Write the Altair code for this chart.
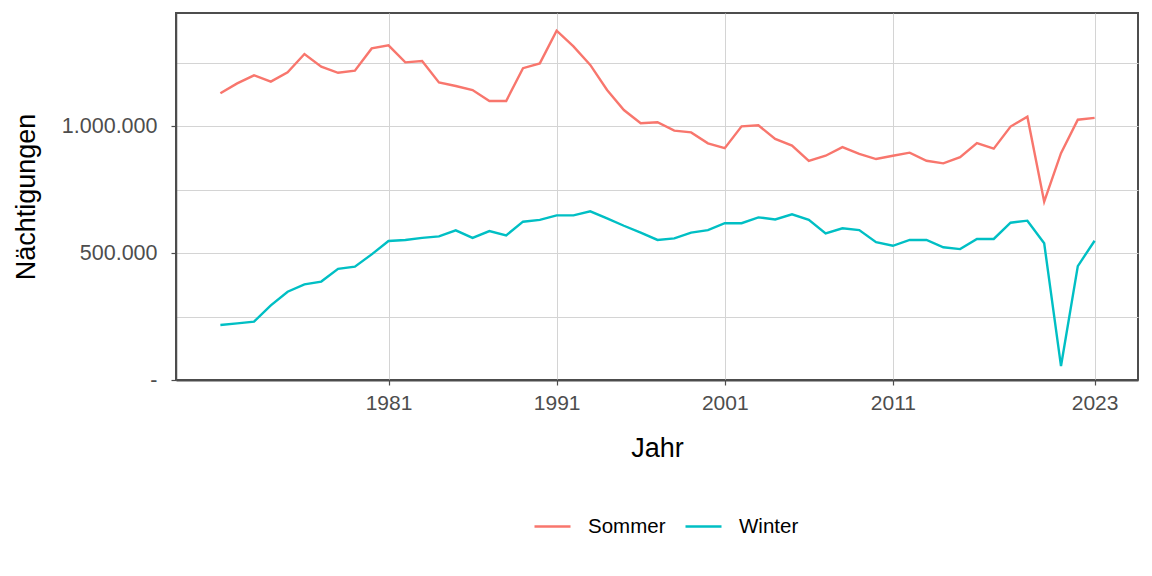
import altair as alt
import pandas as pd

years = list(range(1971, 2024))
sommer = [1130000, 1169000, 1201000, 1176000, 1213000, 1285000, 1235000, 1211000, 1219000, 1307000,
          1319000, 1252000, 1257000, 1173000, 1159000, 1143000, 1100000, 1100000, 1229000, 1248000,
          1377000, 1315000, 1242000, 1143000, 1064000, 1012000, 1016000, 983000, 976000, 933000,
          914000, 1000000, 1004000, 950000, 924000, 864000, 884000, 918000, 891000, 871000,
          884000, 896000, 864000, 854000, 878000, 934000, 912000, 999000, 1038000, 703000,
          894000, 1026000, 1033000]
winter = [217000, 223000, 230000, 294000, 348000, 377000, 388000, 438000, 447000, 495000,
          548000, 552000, 560000, 566000, 590000, 560000, 587000, 570000, 624000, 631000,
          649000, 649000, 665000, 637000, 608000, 581000, 552000, 558000, 581000, 591000,
          618000, 618000, 641000, 633000, 653000, 631000, 578000, 598000, 591000, 543000,
          529000, 552000, 552000, 523000, 516000, 556000, 556000, 620000, 628000, 539000,
          55000, 449000, 549000]
series = ["Sommer", "Winter"]
colors = ["#F8766D", "#00BFC4"]
x_ticks = [1981, 1991, 2001, 2011, 2023]
y_ticks = [0, 250000, 500000, 750000, 1000000, 1250000]

df = pd.concat([
    pd.DataFrame({"Jahr": years, "Nächtigungen": sommer, "Saison": "Sommer"}),
    pd.DataFrame({"Jahr": years, "Nächtigungen": winter, "Saison": "Winter"}),
])

FONT = "Liberation Sans"

chart = alt.Chart(df).mark_line(strokeWidth=2.4).encode(
    x=alt.X("Jahr:Q",
            scale=alt.Scale(domain=[1968.36, 2025.58], nice=False, zero=False),
            axis=alt.Axis(values=x_ticks, labelExpr="format(datum.value, 'd')",
                          title="Jahr", grid=True, gridColor="#d4d4d4", gridWidth=1,
                          tickColor="#4d4d4d", tickSize=5, tickWidth=1.2,
                          domainColor="#4d4d4d", domainWidth=2,
                          labelFont=FONT, labelFontSize=21, labelColor="#4d4d4d",
                          labelPadding=7, titleFont=FONT, titleFontSize=27,
                          titleFontWeight="normal", titleColor="black", titlePadding=22)),
    y=alt.Y("Nächtigungen:Q",
            scale=alt.Scale(domain=[0, 1446600], nice=False),
            axis=alt.Axis(values=y_ticks,
                          labelExpr="datum.value == 0 ? '-' : (datum.value % 500000 != 0 ? '' : replace(format(datum.value, ','), /,/g, '.'))",
                          title="Nächtigungen", grid=True, gridColor="#d4d4d4", gridWidth=1,
                          tickColor="#4d4d4d", tickSize=5, tickWidth=1.2,
                          tickOpacity={"condition": {"test": "datum.value % 500000 != 0", "value": 0}, "value": 1},
                          domainColor="#4d4d4d", domainWidth=1.5,
                          labelFont=FONT, labelFontSize=21.5, labelColor="#4d4d4d",
                          labelPadding=14, titleFont=FONT, titleFontSize=27,
                          titleFontWeight="normal", titleColor="black", titlePadding=21)),
    color=alt.Color("Saison:N",
                    scale=alt.Scale(domain=series, range=colors),
                    legend=alt.Legend(title=None, orient="none", direction="horizontal",
                                      legendX=357, legendY=494,
                                      symbolType="stroke", symbolSize=1296,
                                      symbolStrokeWidth=2.7,
                                      labelFont=FONT, labelFontSize=20.5, labelColor="black",
                                      labelOffset=16, columnPadding=14, padding=0)),
).properties(
    width=962, height=367,
    autosize=alt.AutoSizeParams(type="none"),
    padding={"left": 176, "top": 13, "right": 14, "bottom": 196},
).configure(
    background="white"
).configure_view(
    stroke="#4d4d4d", strokeWidth=2
)

chart.save("out.html", embed_options={"renderer": "svg", "actions": False})
